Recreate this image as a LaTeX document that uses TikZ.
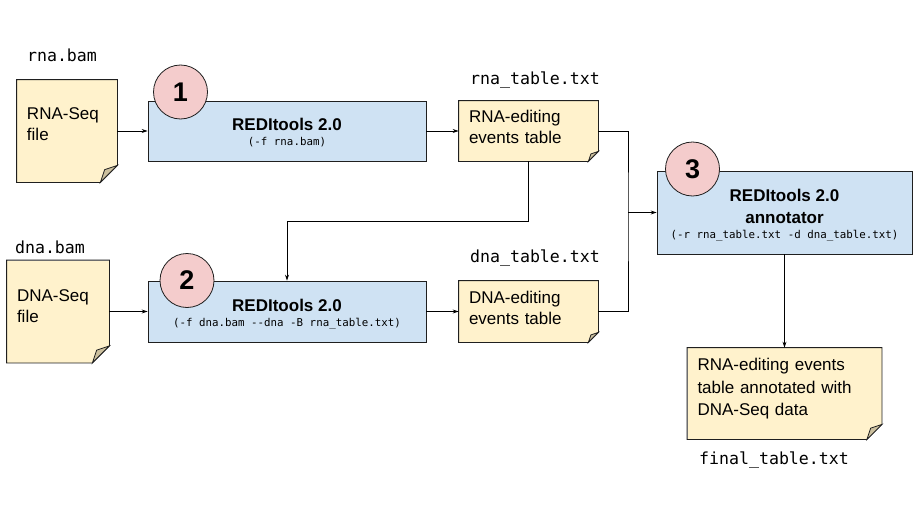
\documentclass[tikz,border=0pt]{standalone}
\usepackage{fontspec}
\setmainfont{Liberation Sans}
\setmonofont{DejaVu Sans Mono}
\usetikzlibrary{arrows.meta}
\definecolor{notec}{HTML}{FFF2CC}
\definecolor{foldc}{HTML}{CCC09E}
\definecolor{toolc}{HTML}{CFE2F3}
\definecolor{stepc}{HTML}{F4CCCC}
\definecolor{linec}{HTML}{1F1F1F}
\newcommand\notef{\fontsize{17}{21}\selectfont}
\newcommand\titlef{\fontsize{17}{21.6}\selectfont\bfseries}
\newcommand\cmdf{\fontsize{10.8}{14.5}\selectfont\ttfamily\mdseries}
\newcommand\labf{\fontsize{16.6}{20}\selectfont\ttfamily}
\newcommand\stepf{\fontsize{27}{30}\selectfont\bfseries}
\def\notefold(#1)(#2){%
  \fill[white] ([yshift=#2]#1.south east) -- (#1.south east) -- ([xshift=-#2]#1.south east) -- cycle;
  \draw[linec] (#1.north west) -- (#1.north east) -- ([yshift=#2]#1.south east) -- ([xshift=-#2]#1.south east) -- (#1.south west) -- cycle;
  \draw[linec, fill=foldc] ([yshift=#2]#1.south east) -- ([xshift=-#2]#1.south east) -- ([xshift=-0.75*#2, yshift=0.75*#2]#1.south east) -- cycle;}

\begin{document}
\begin{tikzpicture}[x=1pt, y=-1pt, line width=0.8pt, >={Stealth[length=6pt,width=4pt]},
  notebox/.style={fill=notec, inner xsep=10pt, inner ysep=0pt, align=left, font=\notef},
  toolbox/.style={draw=linec, fill=toolc, inner sep=0pt, align=center, font=\titlef, text depth=3pt},
  stepnode/.style={circle, draw=linec, fill=stepc, minimum size=54pt, inner sep=0pt, font=\stepf},
  filelabel/.style={font=\labf, inner sep=0pt}]
  %%%%% START %%%%%
  \useasboundingbox (0, 0) rectangle (915, 519);

  % input files
  \node[filelabel] (rnabam) at (62, 55) {rna.bam};
  \node[notebox, text width=80pt, minimum height=102pt, text depth=34pt] (rnaseq) at (67, 131) {RNA-Seq\\file};
  \notefold(rnaseq)(17pt)
  \node[filelabel] (dnabam) at (50, 247) {dna.bam};
  \node[notebox, text width=82pt, minimum height=102pt, text depth=32pt] (dnaseq) at (58, 311.5) {DNA-Seq\\file};
  \notefold(dnaseq)(17pt)

  % tools
  \node[toolbox, minimum width=278pt, minimum height=60pt, text height=31pt] (tool1) at (287, 131)
    {REDItools 2.0\\[-7pt]\cmdf (-f rna.bam)};
  \node[toolbox, minimum width=278pt, minimum height=61pt, text height=33pt] (tool2) at (287, 311.5)
    {REDItools 2.0\\[-7pt]\cmdf (-f dna.bam --dna -B rna\_table.txt)};
  \node[toolbox, minimum width=255pt, minimum height=83pt, text height=54pt] (tool3) at (784.5, 212.5)
    {REDItools 2.0\\annotator\\[-6.6pt]\cmdf (-r rna\_table.txt -d dna\_table.txt)};

  % tables
  \node[filelabel] (rnatxt) at (535, 80) {rna\_table.txt};
  \node[notebox, text width=119pt, minimum height=60pt, text depth=29pt] (rnatab) at (528.5, 131) {RNA-editing\\events table};
  \notefold(rnatab)(10pt)
  \node[filelabel] (dnatxt) at (535, 258) {dna\_table.txt};
  \node[notebox, text width=119pt, minimum height=61pt, text depth=29pt] (dnatab) at (528.5, 311.5) {DNA-editing\\events table};
  \notefold(dnatab)(10pt)
  \node[notebox, text width=174pt, minimum height=91pt, text depth=58pt, font=\fontsize{17}{22.5}\selectfont] (final) at (784.5, 393.5)
    {RNA-editing events\\table annotated with\\DNA-Seq data};
  \notefold(final)(15pt)
  \node[filelabel] (finaltxt) at (774, 460) {final\_table.txt};

  % step numbers
  \node[stepnode] (step1) at (180.5, 92) {1};
  \node[stepnode] (step2) at (187, 280.5) {2};
  \node[stepnode] (step3) at (692.5, 169) {3};

  % connectors
  \draw[->] (rnaseq.east) -- (tool1.west);
  \draw[->] (tool1.east) -- (rnatab.west);
  \draw[->] (dnaseq.east) -- (tool2.west);
  \draw[->] (tool2.east) -- (dnatab.west);
  \coordinate (join) at (628, 212.5);
  \draw (rnatab.east) -| (join) |- (dnatab.east);
  \draw[->] (join) -- (tool3.west);
  \coordinate (bend) at (287, 221);
  \draw[->] (rnatab.south) |- (bend) -- (tool2.north);
  \draw[->] (tool3.south) -- (final.north);
  %%%%% END %%%%%
\end{tikzpicture}
\end{document}
